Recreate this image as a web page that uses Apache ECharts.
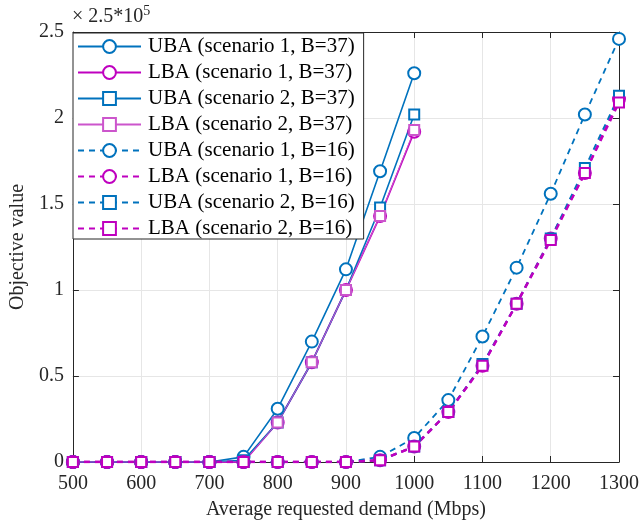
<!DOCTYPE html>
<html>
<head>
<meta charset="utf-8">
<script src="https://cdn.jsdelivr.net/npm/echarts@6/dist/echarts.min.js"></script>
<style>
  html, body { margin: 0; padding: 0; background: #fff; }
  #chart { width: 642px; height: 525px; }
</style>
</head>
<body>
<div id="chart"></div>
<script>
// demand values (Mbps)
const demand37 = [500, 550, 600, 650, 700, 750, 800, 850, 900, 950, 1000];
const demand16 = [500, 550, 600, 650, 700, 750, 800, 850, 900, 950, 1000, 1050, 1100, 1150, 1200, 1250, 1300];

// objective values, scaled by 2.5*10^5
const uba1B37 = [0, 0, 0, 0, 0, 0.03, 0.31, 0.70, 1.12, 1.69, 2.26];
const lba1B37 = [0, 0, 0, 0, 0, 0, 0.23, 0.58, 1.00, 1.43, 1.92];
const uba2B37 = [0, 0, 0, 0, 0, 0.01, 0.23, 0.58, 1.00, 1.48, 2.02];
const lba2B37 = [0, 0, 0, 0, 0, 0, 0.23, 0.58, 1.00, 1.43, 1.93];
const uba1B16 = [0, 0, 0, 0, 0, 0, 0, 0, 0, 0.03, 0.14, 0.36, 0.73, 1.13, 1.56, 2.02, 2.46];
const lba1B16 = [0, 0, 0, 0, 0, 0, 0, 0, 0, 0.01, 0.09, 0.29, 0.56, 0.92, 1.30, 1.68, 2.11];
const uba2B16 = [0, 0, 0, 0, 0, 0, 0, 0, 0, 0.01, 0.09, 0.29, 0.57, 0.92, 1.30, 1.71, 2.13];
const lba2B16 = [0, 0, 0, 0, 0, 0, 0, 0, 0, 0.01, 0.09, 0.29, 0.56, 0.92, 1.29, 1.68, 2.09];

const blue = '#0072BD';
const magenta = '#BF00BF';
const font = 'Liberation Serif';

function pairs(xs, ys) {
  return xs.map((x, i) => [x, ys[i]]);
}

function mk(name, xs, ys, color, symbol, width, dashed, size) {
  return {
    name: name,
    type: 'line',
    data: pairs(xs, ys),
    symbol: symbol,
    symbolSize: size,
    showSymbol: true,
    lineStyle: { color: color, width: width, type: dashed ? [6, 5] : 'solid' },
    itemStyle: { color: color, borderColor: color, borderWidth: 1.5 },
    emphasis: { disabled: true },
    animation: false,
  };
}

const series = [
  mk('UBA (scenario 1, B=37)', demand37, uba1B37, blue, 'emptyCircle', 1.6, false, 12),
  mk('LBA (scenario 1, B=37)', demand37, lba1B37, magenta, 'emptyCircle', 1.8, false, 12),
  mk('UBA (scenario 2, B=37)', demand37, uba2B37, blue, 'emptyRect', 1.6, false, 10),
  mk('LBA (scenario 2, B=37)', demand37, lba2B37, '#CC55CC', 'emptyRect', 1, false, 10),
  mk('UBA (scenario 1, B=16)', demand16, uba1B16, blue, 'emptyCircle', 1.8, true, 12),
  mk('LBA (scenario 1, B=16)', demand16, lba1B16, magenta, 'emptyCircle', 2.4, true, 12),
  mk('UBA (scenario 2, B=16)', demand16, uba2B16, blue, 'emptyRect', 1.8, true, 10),
  mk('LBA (scenario 2, B=16)', demand16, lba2B16, magenta, 'emptyRect', 2.4, true, 10),
];

const labelStyle = { fontFamily: font, fontSize: 20, color: '#262626' };

const myChart = echarts.init(document.getElementById('chart'));
const option = {
  animation: false,
  backgroundColor: '#fff',
  title: {
    text: '× 2.5*10{sup|5}',
    left: 72,
    top: 4,
    padding: 0,
    textStyle: {
      fontFamily: font, fontSize: 20, fontWeight: 'normal', color: '#262626',
      rich: { sup: { fontFamily: font, fontSize: 14, verticalAlign: 'top', padding: [0, 0, 12, 0], color: '#262626' } },
    },
  },
  grid: { left: 72, right: 20, top: 32, bottom: 62 },
  legend: {
    orient: 'vertical',
    left: 73,
    top: 33,
    padding: [3, 9, 0, 4],
    itemGap: 5,
    itemWidth: 63,
    itemHeight: 16,
    backgroundColor: '#fff',
    borderColor: '#262626',
    borderWidth: 1,
    textStyle: { fontFamily: font, fontSize: 21, lineHeight: 21, color: '#000', padding: [0, 0, 0, 2] },
    data: series.map(s => s.name),
  },
  xAxis: [
    {
      type: 'value', min: 500, max: 1300, interval: 100,
      name: 'Average requested demand (Mbps)', nameLocation: 'middle', nameGap: 38,
      nameTextStyle: { fontFamily: font, fontSize: 20, color: '#262626' },
      axisLine: { lineStyle: { color: '#262626', width: 1 } },
      axisTick: { inside: true, length: 6, lineStyle: { color: '#262626' } },
      axisLabel: Object.assign({ margin: 12, formatter: v => String(v) }, labelStyle),
      splitLine: { show: true, lineStyle: { color: '#e6e6e6', width: 1 } },
    },
    {
      type: 'value', min: 500, max: 1300, interval: 100, position: 'top',
      axisLine: { onZero: false, lineStyle: { color: '#262626', width: 1 } },
      axisTick: { inside: true, length: 6, lineStyle: { color: '#262626' } },
      axisLabel: { show: false },
      splitLine: { show: false },
    },
  ],
  yAxis: [
    {
      type: 'value', min: 0, max: 2.5, interval: 0.5,
      name: 'Objective value', nameLocation: 'middle', nameGap: 43,
      nameTextStyle: { fontFamily: font, fontSize: 20, color: '#262626' },
      axisLine: { show: true, lineStyle: { color: '#262626', width: 1 } },
      axisTick: { show: true, inside: true, length: 6, lineStyle: { color: '#262626' } },
      axisLabel: Object.assign({ margin: 9, padding: [3, 0, 0, 0] }, labelStyle),
      splitLine: { show: true, lineStyle: { color: '#e6e6e6', width: 1 } },
    },
    {
      type: 'value', min: 0, max: 2.5, interval: 0.5, position: 'right',
      axisLine: { show: true, onZero: false, lineStyle: { color: '#262626', width: 1 } },
      axisTick: { show: true, inside: true, length: 6, lineStyle: { color: '#262626' } },
      axisLabel: { show: false },
      splitLine: { show: false },
    },
  ],
  series: series,
};
myChart.setOption(option);
</script>
</body>
</html>
